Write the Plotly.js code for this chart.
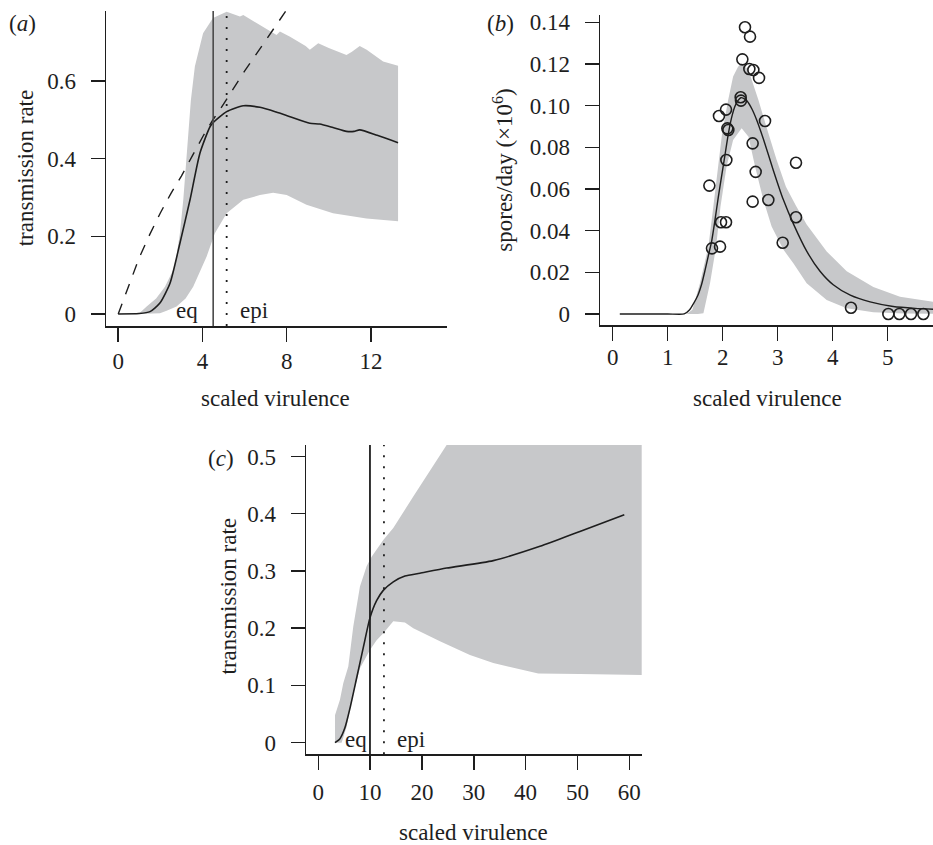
<!DOCTYPE html>
<html>
<head>
<meta charset="utf-8">
<script src="https://cdn.plot.ly/plotly-3.0.1.min.js"></script>
<style>html,body{margin:0;padding:0;background:#fff}#chart{width:933px;height:845px}</style>
</head>
<body>
<div id="chart"></div>
<script>
// ---------- Panel (a) ----------
const aBandUpperX = [0, 1.03, 1.35, 1.8, 2.22, 2.45, 2.69, 2.93, 3.09, 3.21, 3.32, 3.45, 3.64, 4.03, 4.5, 5.0, 5.15, 5.78, 5.94, 6.57, 7.21, 7.52, 7.68, 8.16, 8.9, 9.1, 9.5, 10.0, 10.84, 11.1, 11.47, 11.8, 12.58, 13.29];
const aBandUpperY = [0, 0.003, 0.019, 0.04, 0.07, 0.095, 0.122, 0.208, 0.294, 0.379, 0.465, 0.55, 0.637, 0.723, 0.762, 0.774, 0.778, 0.766, 0.770, 0.749, 0.727, 0.718, 0.727, 0.714, 0.69, 0.68, 0.697, 0.685, 0.667, 0.675, 0.69, 0.68, 0.65, 0.639];
const aBandLowerX = [0, 1.0, 1.98, 2.3, 2.77, 3.2, 3.56, 4.2, 4.59, 5.15, 5.94, 6.73, 7.36, 8.0, 8.94, 10.2, 11.79, 13.29];
const aBandLowerY = [0, 0, 0.002, 0.008, 0.019, 0.04, 0.07, 0.148, 0.208, 0.259, 0.294, 0.306, 0.312, 0.306, 0.281, 0.259, 0.246, 0.239];
const aMeanX = [0, 1.0, 1.51, 1.98, 2.46, 2.93, 3.41, 3.88, 4.36, 4.55, 5.15, 5.94, 6.73, 7.5, 8.16, 9.1, 9.57, 10.2, 10.84, 11.2, 11.47, 12.3, 13.29];
const aMeanY = [0, 0.001, 0.006, 0.028, 0.079, 0.182, 0.294, 0.414, 0.482, 0.495, 0.521, 0.536, 0.532, 0.52, 0.508, 0.491, 0.489, 0.48, 0.47, 0.47, 0.474, 0.46, 0.441];
const aDashX = [0, 0.5, 1, 1.5, 2, 2.5, 3, 3.5, 4, 4.5, 5, 6, 7, 8];
const aDashY = [0, 0.075, 0.145, 0.205, 0.26, 0.31, 0.355, 0.405, 0.455, 0.5, 0.54, 0.625, 0.705, 0.783];
const aEq = 4.51, aEpi = 5.15;
const aXTicks = [0, 4, 8, 12];
const aYTicks = [0, 0.2, 0.4, 0.6];
const aYTickText = ["0", "0.2", "0.4", "0.6"];

// ---------- Panel (b) ----------
const bBandUpperX = [1.345, 1.45, 1.587, 1.74, 1.83, 1.92, 1.99, 2.10, 2.19, 2.28, 2.345, 2.47, 2.65, 2.81, 2.98, 3.15, 3.33, 3.527, 3.891, 4.255, 4.739, 5.224, 5.9];
const bBandUpperY = [0, 0.002, 0.0147, 0.0323, 0.0515, 0.0707, 0.0867, 0.1027, 0.114, 0.1187, 0.1203, 0.117, 0.1027, 0.0885, 0.074, 0.061, 0.052, 0.0430, 0.0300, 0.0205, 0.0130, 0.0083, 0.0055];
const bBandLowerX = [1.345, 1.55, 1.65, 1.77, 1.88, 1.96, 2.07, 2.19, 2.345, 2.47, 2.59, 2.74, 2.89, 3.1, 3.285, 3.527, 3.891, 4.255, 4.739, 5.3, 5.9];
const bBandLowerY = [0, 0, 0.0003, 0.0147, 0.0323, 0.0515, 0.0707, 0.0835, 0.0891, 0.0851, 0.0707, 0.0547, 0.042, 0.031, 0.0243, 0.0147, 0.0067, 0.0027, 0.0008, 0.0002, 0.0001];
const bMeanX = [0.13, 1.0, 1.3, 1.4, 1.47, 1.55, 1.62, 1.68, 1.74, 1.8, 1.86, 1.92, 1.98, 2.04, 2.10, 2.16, 2.22, 2.28, 2.33, 2.38, 2.45, 2.53, 2.62, 2.74, 2.92, 3.10, 3.29, 3.53, 3.77, 4.01, 4.32, 4.68, 5.10, 5.5, 5.9];
const bMeanY = [0, 0, 0, 0.002, 0.005, 0.009, 0.0145, 0.021, 0.028, 0.035, 0.045, 0.056, 0.066, 0.076, 0.086, 0.094, 0.0995, 0.1025, 0.1038, 0.1035, 0.102, 0.0985, 0.093, 0.084, 0.069, 0.055, 0.043, 0.030, 0.0205, 0.0140, 0.0090, 0.0058, 0.0036, 0.0027, 0.0022];
const bPointsX = [2.406, 2.497, 2.358, 2.485, 2.558, 2.661, 2.327, 2.333, 2.061, 1.933, 2.085, 2.103, 2.770, 2.545, 2.067, 3.333, 2.600, 1.758, 2.545, 2.830, 1.970, 2.061, 3.333, 1.806, 1.952, 3.091, 4.333, 5.012, 5.212, 5.424, 5.648];
const bPointsY = [0.1376, 0.1331, 0.1222, 0.1176, 0.1171, 0.1133, 0.1040, 0.1024, 0.0981, 0.0950, 0.0891, 0.0883, 0.0926, 0.0819, 0.0739, 0.0726, 0.0682, 0.0616, 0.0539, 0.0547, 0.0440, 0.0440, 0.0464, 0.0315, 0.0323, 0.0342, 0.0030, 0, 0, 0, 0];
const bXTicks = [0, 1, 2, 3, 4, 5];
const bYTicks = [0, 0.02, 0.04, 0.06, 0.08, 0.10, 0.12, 0.14];
const bYTickText = ["0", "0.02", "0.04", "0.06", "0.08", "0.10", "0.12", "0.14"];

// ---------- Panel (c) ----------
const cBandUpperX = [3.22, 4.18, 4.82, 5.79, 6.75, 8.04, 9.32, 10.29, 12.54, 14.47, 18.33, 22.19, 24.76, 30, 40, 50, 64];
const cBandUpperY = [0.048, 0.075, 0.104, 0.133, 0.203, 0.273, 0.308, 0.325, 0.354, 0.375, 0.43, 0.483, 0.52, 0.6, 0.75, 0.9, 1.1];
const cBandLowerX = [3.22, 4.5, 5.47, 6.75, 8.04, 9.97, 11.25, 12.54, 14.47, 16.72, 18.33, 23.47, 29.26, 33.76, 42.44, 50.48, 64];
const cBandLowerY = [0, 0, 0.028, 0.086, 0.13, 0.162, 0.179, 0.191, 0.212, 0.21, 0.2, 0.177, 0.153, 0.139, 0.121, 0.12, 0.118];
const cMeanX = [3.22, 4.18, 5.14, 6.11, 7.4, 8.68, 9.97, 11.25, 12.54, 14.47, 16.72, 19.61, 24.76, 33.76, 42.77, 50.48, 59.04];
const cMeanY = [0, 0.007, 0.026, 0.06, 0.113, 0.166, 0.218, 0.248, 0.266, 0.281, 0.291, 0.296, 0.305, 0.318, 0.343, 0.369, 0.398];
const cEq = 9.97, cEpi = 12.67;
const cXTicks = [0, 10, 20, 30, 40, 50, 60];
const cYTicks = [0, 0.1, 0.2, 0.3, 0.4, 0.5];
const cYTickText = ["0", "0.1", "0.2", "0.3", "0.4", "0.5"];

// ---------- styling ----------
const INK = '#1e1e1e';
const BAND = '#c7c8ca';
const FONT = '"Liberation Serif", "Times New Roman", serif';
const FS = 23;

function band(ux, uy, lx, ly, xa, ya) {
  return {
    x: ux.concat(lx.slice().reverse()),
    y: uy.concat(ly.slice().reverse()),
    xaxis: xa, yaxis: ya, type: 'scatter', mode: 'lines',
    fill: 'toself', fillcolor: BAND, line: {width: 0, color: BAND},
    hoverinfo: 'skip', showlegend: false
  };
}
function line(x, y, xa, ya, extra) {
  return Object.assign({
    x: x, y: y, xaxis: xa, yaxis: ya, type: 'scatter', mode: 'lines',
    line: {color: INK, width: 1.6, shape: 'spline', smoothing: 0.6},
    showlegend: false, hoverinfo: 'skip'
  }, extra || {});
}

const traces = [
  band(aBandUpperX, aBandUpperY, aBandLowerX, aBandLowerY, 'x', 'y'),
  line(aDashX, aDashY, 'x', 'y', {line: {color: INK, width: 1.4, dash: '11px,10px'}}),
  line(aMeanX, aMeanY, 'x', 'y'),
  band(bBandUpperX, bBandUpperY, bBandLowerX, bBandLowerY, 'x2', 'y2'),
  line(bMeanX, bMeanY, 'x2', 'y2', {line: {color: INK, width: 1.4, shape: 'spline', smoothing: 0.6}}),
  {x: bPointsX, y: bPointsY, xaxis: 'x2', yaxis: 'y2', type: 'scatter', mode: 'markers',
   marker: {symbol: 'circle-open', size: 11, color: INK, line: {width: 1.6, color: INK}},
   showlegend: false, hoverinfo: 'skip', cliponaxis: false},
  band(cBandUpperX, cBandUpperY, cBandLowerX, cBandLowerY, 'x3', 'y3'),
  line(cMeanX, cMeanY, 'x3', 'y3')
];

function axisBase(extra) {
  return Object.assign({
    showline: true, linecolor: INK, linewidth: 1.5,
    ticks: 'outside', ticklen: 14, tickwidth: 1.5, tickcolor: INK,
    showgrid: false, zeroline: false, fixedrange: true,
    tickfont: {family: FONT, size: FS, color: INK},
    tickmode: 'array'
  }, extra);
}

const W = 933, H = 845;
const fx = p => p / W;
const fy = p => (H - p) / H;
function note(text, x, y, extra) {
  return Object.assign({text: text, xref: 'paper', yref: 'paper', x: fx(x), y: fy(y),
    showarrow: false, xanchor: 'center', yanchor: 'middle'}, extra || {});
}

const layout = {
  width: W, height: H,
  margin: {l: 0, r: 0, t: 0, b: 0},
  paper_bgcolor: '#fff', plot_bgcolor: 'rgba(0,0,0,0)',
  showlegend: false,
  font: {family: FONT, size: FS, color: INK},
  xaxis: axisBase({domain: [fx(106), fx(446.7)], range: [-0.58, 15.6], anchor: 'y',
    tickvals: aXTicks, ticktext: aXTicks.map(String), ticklabelstandoff: 0}),
  yaxis: axisBase({domain: [fy(326), fy(11)], range: [-0.031, 0.780], anchor: 'x',
    tickvals: aYTicks, ticktext: aYTickText, ticklabelstandoff: 10}),
  xaxis2: axisBase({domain: [fx(600), 1], range: [-0.23, (933 - 612.7) / 55], anchor: 'y2',
    tickvals: bXTicks, ticktext: bXTicks.map(String), ticklabelstandoff: -3}),
  yaxis2: axisBase({domain: [fy(325), fy(15)], range: [-0.0053, 0.1435], anchor: 'x2',
    tickvals: bYTicks, ticktext: bYTickText, ticklabelstandoff: 10}),
  xaxis3: axisBase({domain: [fx(306), fx(641.7)], range: [-2.37, 62.4], anchor: 'y3',
    tickvals: cXTicks, ticktext: cXTicks.map(String), ticklabelstandoff: 3}),
  yaxis3: axisBase({domain: [fy(754.3), fy(445)], range: [-0.0203, 0.52], anchor: 'x3',
    tickvals: cYTicks, ticktext: cYTickText, ticklabelstandoff: 10}),
  shapes: [
    {type: 'line', xref: 'x', yref: 'y domain', x0: aEq, x1: aEq, y0: 0, y1: 1, line: {color: '#4a4a4a', width: 1.6}},
    {type: 'line', xref: 'x', yref: 'y domain', x0: aEpi, x1: aEpi, y0: 0, y1: 1, line: {color: INK, width: 1.8, dash: '2px,9px'}},
    {type: 'line', xref: 'x3', yref: 'y3 domain', x0: cEq, x1: cEq, y0: 0, y1: 1, line: {color: INK, width: 1.8}},
    {type: 'line', xref: 'x3', yref: 'y3 domain', x0: cEpi, x1: cEpi, y0: 0, y1: 1, line: {color: INK, width: 1.8, dash: '2px,9px'}}
  ],
  annotations: [
    // panel letters
    note('(<i>a</i>)', 22.5, 23.5),
    note('(<i>b</i>)', 500.5, 24),
    note('(<i>c</i>)', 220.5, 458.7),
    // axis titles
    note('transmission rate', 25.8, 167.5, {textangle: -90}),
    note('scaled virulence', 275.7, 398.7),
    note('spores/day (×10<sup>6</sup>)', 502.7, 170, {textangle: -90}),
    note('scaled virulence', 767.5, 398.7),
    note('transmission rate', 227.5, 596, {textangle: -90}),
    note('scaled virulence', 473.3, 832),
    // eq / epi labels
    {text: 'eq', xref: 'x', yref: 'y', x: 3.29, y: 0, yshift: 3, showarrow: false, xanchor: 'center', yanchor: 'middle'},
    {text: 'epi', xref: 'x', yref: 'y', x: 6.45, y: 0, yshift: 3, showarrow: false, xanchor: 'center', yanchor: 'middle'},
    {text: 'eq', xref: 'x3', yref: 'y3', x: 7.33, y: 0, yshift: 3, showarrow: false, xanchor: 'center', yanchor: 'middle'},
    {text: 'epi', xref: 'x3', yref: 'y3', x: 17.95, y: 0, yshift: 3, showarrow: false, xanchor: 'center', yanchor: 'middle'}
  ]
};

Plotly.newPlot('chart', traces, layout, {staticPlot: true, displayModeBar: false});
</script>
</body>
</html>
